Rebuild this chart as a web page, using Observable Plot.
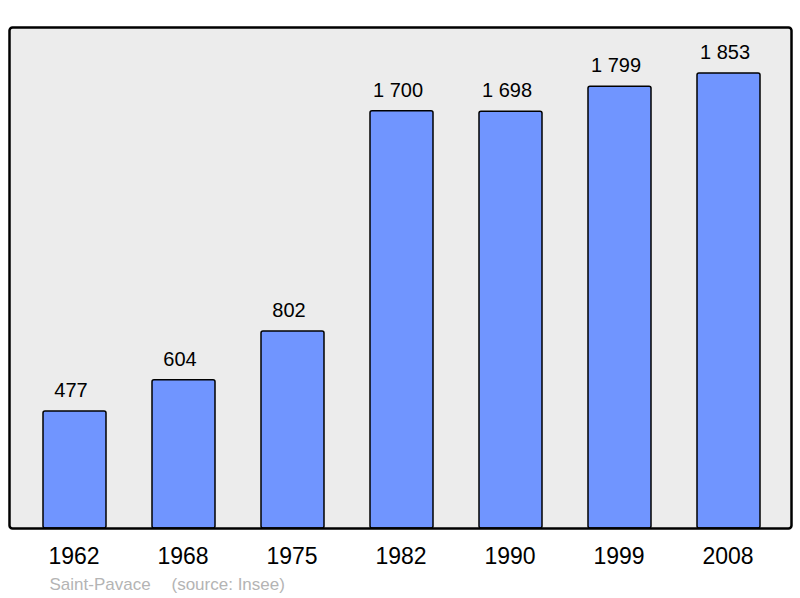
<!DOCTYPE html>
<html>
<head>
<meta charset="utf-8">
<script src="https://cdn.jsdelivr.net/npm/d3@7"></script>
<script src="https://cdn.jsdelivr.net/npm/@observablehq/plot@0.6"></script>
<style>
  html, body { margin: 0; padding: 0; background: #fff; }
  svg { display: block; font-family: "Liberation Sans", Arial, sans-serif; }
</style>
</head>
<body>
<div id="chart"></div>
<script>
const years = ["1962", "1968", "1975", "1982", "1990", "1999", "2008"];
const population = [477, 604, 802, 1700, 1698, 1799, 1853];
const placeName = "Saint-Pavace";
const sourceNote = "(source: Insee)";

const fmt = d3.formatLocale({decimal: ",", thousands: "\u00a0", grouping: [3], currency: ["", ""]}).format(",d");
const data = years.map((y, i) => ({year: y, value: population[i], label: fmt(population[i])}));

const chart = Plot.plot({
  width: 800,
  height: 598,
  marginLeft: 9,
  marginRight: 9,
  marginTop: 27,
  marginBottom: 70,
  style: {fontFamily: '"Liberation Sans", Arial, sans-serif', background: "#fff"},
  x: {domain: years, range: [19, 784], paddingInner: 0.42, paddingOuter: 0.21, axis: null},
  y: {domain: [0, 2000], range: [528, 37], axis: null},
  marks: [
    Plot.frame({fill: "#ececec", stroke: "none", rx: 3}),
    Plot.barY(data, {x: "year", y: "value", fill: "#7095ff", stroke: "#000", strokeWidth: 1.5, rx: 2}),
    Plot.frame({fill: "none", stroke: "#000", strokeWidth: 2.5, rx: 3}),
    Plot.text(data, {x: "year", y: "value", text: "label", dx: -4, dy: -21, lineAnchor: "middle", fontSize: 20, fill: "#000"}),
    Plot.text(data, {x: "year", text: "year", frameAnchor: "bottom", dx: -1, dy: 28, lineAnchor: "middle", fontSize: 23, fill: "#000"}),
    Plot.text([placeName], {text: d => d, frameAnchor: "bottom-left", dx: 40, dy: 56, textAnchor: "start", lineAnchor: "middle", fontSize: 17, fill: "#b4b4b4"}),
    Plot.text([sourceNote], {text: d => d, frameAnchor: "bottom-left", dx: 162, dy: 56, textAnchor: "start", lineAnchor: "middle", fontSize: 17, fill: "#b4b4b4"})
  ]
});
document.getElementById("chart").appendChild(chart);
</script>
</body>
</html>
